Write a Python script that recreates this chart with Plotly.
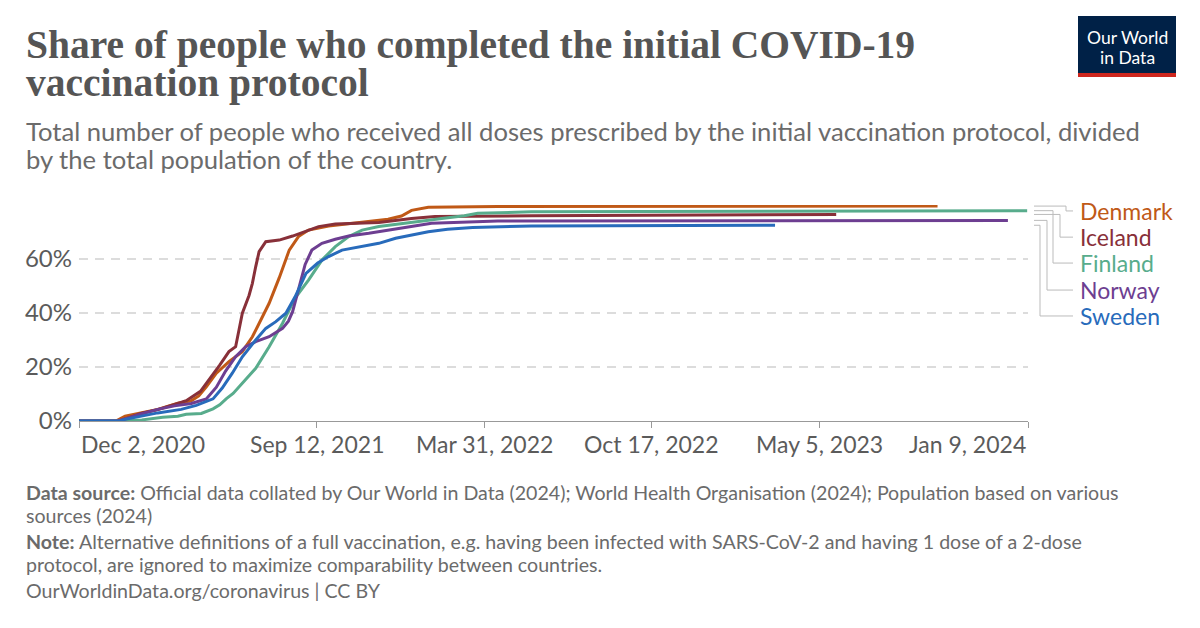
import plotly.graph_objects as go

# ---------------- data ----------------
denmark_dates = ["2020-12-02", "2021-01-15", "2021-01-26", "2021-02-14", "2021-03-06", "2021-03-30",
                 "2021-04-15", "2021-04-24", "2021-05-03", "2021-05-15", "2021-05-30", "2021-06-15",
                 "2021-06-27", "2021-07-09", "2021-07-17", "2021-07-29", "2021-08-10", "2021-08-21",
                 "2021-09-02", "2021-09-26", "2021-11-05", "2021-12-06", "2021-12-22", "2022-01-03",
                 "2022-01-23", "2022-04-16", "2023-09-23"]
denmark_vals = [0, 0, 1.8, 3.0, 4.3, 6.6,
                7.5, 9.3, 12.7, 17.7, 22.0, 25.7,
                31.2, 38.6, 43.6, 53.0, 63.3, 68.3,
                70.7, 72.2, 73.5, 74.7, 75.9, 78.0,
                79.2, 79.4, 79.6]

iceland_dates = ["2020-12-02", "2021-01-20", "2021-02-14", "2021-03-06", "2021-03-30", "2021-04-09",
                 "2021-04-26", "2021-05-07", "2021-05-19", "2021-05-30", "2021-06-07", "2021-06-11",
                 "2021-06-15", "2021-06-23", "2021-06-27", "2021-07-01", "2021-07-05", "2021-07-13",
                 "2021-07-29", "2021-08-14", "2021-08-29", "2021-09-14", "2021-10-04", "2021-11-25",
                 "2022-01-03", "2022-01-31", "2022-05-26", "2023-05-25"]
iceland_vals = [0, 0, 2.8, 4.2, 6.5, 7.5,
                11.0, 15.5, 20.7, 25.7, 27.5, 33.7,
                39.9, 46.5, 51.0, 57.2, 62.7, 66.4,
                67.0, 68.5, 70.1, 72.0, 73.0, 73.5,
                75.0, 75.7, 76.0, 76.5]

finland_dates = ["2020-12-02", "2021-01-21", "2021-02-15", "2021-03-12", "2021-03-30", "2021-04-09",
                 "2021-04-27", "2021-05-11", "2021-05-19", "2021-05-27", "2021-06-04", "2021-06-19",
                 "2021-07-01", "2021-07-17", "2021-08-02", "2021-08-17", "2021-09-02", "2021-09-18",
                 "2021-10-04", "2021-10-20", "2021-11-05", "2021-11-25", "2021-12-22", "2022-01-21",
                 "2022-02-08", "2022-03-07", "2022-03-23", "2022-05-26", "2024-01-08"]
finland_vals = [0, 0, 0.4, 1.4, 1.8, 2.5,
                2.8, 4.5, 6.0, 8.3, 10.2, 15.2,
                19.5, 27.5, 36.2, 45.5, 52.2, 59.6,
                64.6, 68.3, 70.7, 72.0, 73.2, 74.3,
                75.0, 76.0, 76.9, 77.5, 77.9]

norway_dates = ["2020-12-02", "2021-01-17", "2021-01-31", "2021-02-14", "2021-03-06", "2021-03-26",
                "2021-04-15", "2021-05-03", "2021-05-15", "2021-05-26", "2021-06-07", "2021-06-19",
                "2021-07-01", "2021-07-17", "2021-08-02", "2021-08-09", "2021-08-14", "2021-08-18",
                "2021-08-22", "2021-08-29", "2021-09-06", "2021-09-18", "2021-10-04", "2021-10-20",
                "2021-11-13", "2021-12-14", "2022-01-06", "2022-01-27", "2022-04-16", "2023-12-16"]
norway_vals = [0, 0, 1.2, 2.6, 4.3, 5.6,
               6.5, 8.2, 12.5, 18.5, 23.8, 27.5,
               29.4, 31.2, 34.3, 37.0, 40.5, 45.0,
               49.5, 58.0, 63.3, 65.8, 67.3, 68.5,
               69.5, 71.0, 72.0, 73.2, 74.1, 74.3]

sweden_dates = ["2020-12-02", "2021-01-19", "2021-01-26", "2021-03-06", "2021-04-03", "2021-04-21",
                "2021-05-11", "2021-05-22", "2021-06-03", "2021-06-15", "2021-07-01", "2021-07-13",
                "2021-07-25", "2021-08-06", "2021-08-17", "2021-08-25", "2021-08-30", "2021-09-13",
                "2021-09-26", "2021-10-12", "2021-11-05", "2021-11-25", "2021-12-15", "2022-01-06",
                "2022-01-23", "2022-02-15", "2022-03-17", "2022-05-26", "2023-03-13"]
sweden_vals = [0, 0, 0.6, 3.0, 4.3, 5.8,
               8.2, 12.2, 17.7, 23.8, 30.0, 34.3,
               36.8, 39.9, 46.0, 51.5, 54.7, 58.5,
               60.9, 63.3, 64.6, 65.8, 67.7, 69.2,
               70.1, 71.0, 71.7, 72.2, 72.5]

tick_dates = ["2020-12-02", "2021-09-12", "2022-03-31", "2022-10-17", "2023-05-05", "2024-01-09"]
tick_labels = ["Dec 2, 2020", "Sep 12, 2021", "Mar 31, 2022", "Oct 17, 2022", "May 5, 2023", "Jan 9, 2024"]
y_ticks = [0, 20, 40, 60]

series = [
    ("Denmark", denmark_dates, denmark_vals, "#C05917"),
    ("Iceland", iceland_dates, iceland_vals, "#883039"),
    ("Finland", finland_dates, finland_vals, "#58AC8C"),
    ("Norway", norway_dates, norway_vals, "#6D3E91"),
    ("Sweden", sweden_dates, sweden_vals, "#286BBB"),
]
# label vertical positions (in % units) for the end-of-line labels
label_pos = {"Denmark": 77.8, "Iceland": 68.1, "Finland": 58.5, "Norway": 48.5, "Sweden": 38.9}
elbow_px = {"Denmark": 1066, "Iceland": 1060, "Finland": 1053, "Norway": 1047, "Sweden": 1040}

# ---------------- layout geometry ----------------
W, H = 1200, 628
ML, MR, MT, MB = 79, 172, 205, 207
PW, PH = W - ML - MR, H - MT - MB
YMAX = 80


def px(x):
    return (x - ML) / PW


def py(y):
    return (H - MB - y) / PH


fig = go.Figure()
for name, d, v, c in series:
    fig.add_trace(go.Scatter(x=d, y=v, mode="lines", name=name,
                             line=dict(color=c, width=3), showlegend=False,
                             hoverinfo="skip"))

annotations = []
shapes = []

# end labels + connectors
for name, d, v, c in series:
    yl = label_pos[name] / YMAX
    ys = v[-1] / YMAX
    ex = px(elbow_px[name])
    x0 = px(1034)
    x1 = px(1073)
    for (a, b, cc, dd) in [(x0, ys, ex, ys), (ex, ys, ex, yl), (ex, yl, x1, yl)]:
        shapes.append(dict(type="line", xref="paper", yref="paper", x0=a, y0=b, x1=cc, y1=dd,
                           line=dict(color="#bbbbbb", width=1)))
    annotations.append(dict(text=name, xref="paper", yref="paper", x=px(1078), y=yl,
                            xanchor="left", yanchor="middle", showarrow=False,
                            font=dict(family="Lato", size=23, color=c)))

# x tick labels (first left-aligned, last right-aligned, as in the reference)
for i, (td, tl) in enumerate(zip(tick_dates, tick_labels)):
    anchor = "left" if i == 0 else ("right" if i == len(tick_dates) - 1 else "center")
    annotations.append(dict(text=tl, xref="x", yref="paper", x=td, y=py(444),
                            xanchor=anchor, yanchor="middle", showarrow=False,
                            font=dict(family="Lato", size=23, color="#5b5b5b")))

# title
title_font = dict(family="Liberation Serif", size=39.5, color="#555555")
annotations.append(dict(text="<b>Share of people who completed the initial COVID-19</b>", xref="paper", yref="paper",
                        x=px(24), y=py(45), xanchor="left", yanchor="middle", showarrow=False, font=title_font))
annotations.append(dict(text="<b>vaccination protocol</b>", xref="paper", yref="paper",
                        x=px(24), y=py(83), xanchor="left", yanchor="middle", showarrow=False, font=title_font))

sub_font = dict(family="Lato", size=25.6, color="#6b6b6b")
annotations.append(dict(text="Total number of people who received all doses prescribed by the initial vaccination protocol, divided",
                        xref="paper", yref="paper", x=px(24), y=py(131), xanchor="left", yanchor="middle",
                        showarrow=False, font=sub_font))
annotations.append(dict(text="by the total population of the country.",
                        xref="paper", yref="paper", x=px(24), y=py(159), xanchor="left", yanchor="middle",
                        showarrow=False, font=sub_font))

foot_font = dict(family="Lato", size=19.6, color="#6b6b6b")
foot_lines = [
    (492, "<b>Data source:</b> Official data collated by Our World in Data (2024); World Health Organisation (2024); Population based on various"),
    (515, "sources (2024)"),
    (541, "<b>Note:</b> Alternative definitions of a full vaccination, e.g. having been infected with SARS-CoV-2 and having 1 dose of a 2-dose"),
    (564, "protocol, are ignored to maximize comparability between countries."),
    (590, "OurWorldinData.org/coronavirus | CC BY"),
]
for yy, t in foot_lines:
    annotations.append(dict(text=t, xref="paper", yref="paper", x=px(24), y=py(yy), xanchor="left",
                            yanchor="middle", showarrow=False, font=foot_font))

# logo
shapes.append(dict(type="rect", xref="paper", yref="paper", x0=px(1078), x1=px(1176), y0=py(16), y1=py(77),
                   fillcolor="#002147", line=dict(width=0), layer="above"))
shapes.append(dict(type="rect", xref="paper", yref="paper", x0=px(1078), x1=px(1176), y0=py(73), y1=py(77),
                   fillcolor="#CE261E", line=dict(width=0), layer="above"))
annotations.append(dict(text="Our World", xref="paper", yref="paper", x=px(1127), y=py(37),
                        xanchor="center", yanchor="middle", showarrow=False,
                        font=dict(family="Lato", size=17.5, color="white")))
annotations.append(dict(text="in Data", xref="paper", yref="paper", x=px(1127), y=py(57),
                        xanchor="center", yanchor="middle", showarrow=False,
                        font=dict(family="Lato", size=17.5, color="white")))

fig.update_layout(
    width=W, height=H,
    margin=dict(l=ML, r=MR, t=MT, b=MB, autoexpand=False),
    paper_bgcolor="white", plot_bgcolor="white",
    annotations=annotations, shapes=shapes,
    showlegend=False,
    font=dict(family="Lato", color="#5b5b5b"),
)
fig.update_xaxes(
    type="date", range=["2020-12-02", "2024-01-09"],
    tickvals=tick_dates, showticklabels=False,
    showgrid=False, zeroline=False,
    showline=True, linecolor="#999999", linewidth=1.2,
    ticks="outside", ticklen=6, tickcolor="#999999", tickwidth=1.2,
)
fig.update_yaxes(
    range=[0, YMAX], tickvals=y_ticks, ticktext=[f"{t}%" for t in y_ticks],
    showgrid=True, gridcolor="#dcdcdc", gridwidth=1.6, griddash="9px,7px",
    zeroline=False, showline=False, ticks="",
    tickfont=dict(family="Lato", size=24, color="#5b5b5b"),
    ticklabelstandoff=6,
)

fig.write_html("out.html", config={"displayModeBar": False},
               post_script="document.body.style.margin='0';")
